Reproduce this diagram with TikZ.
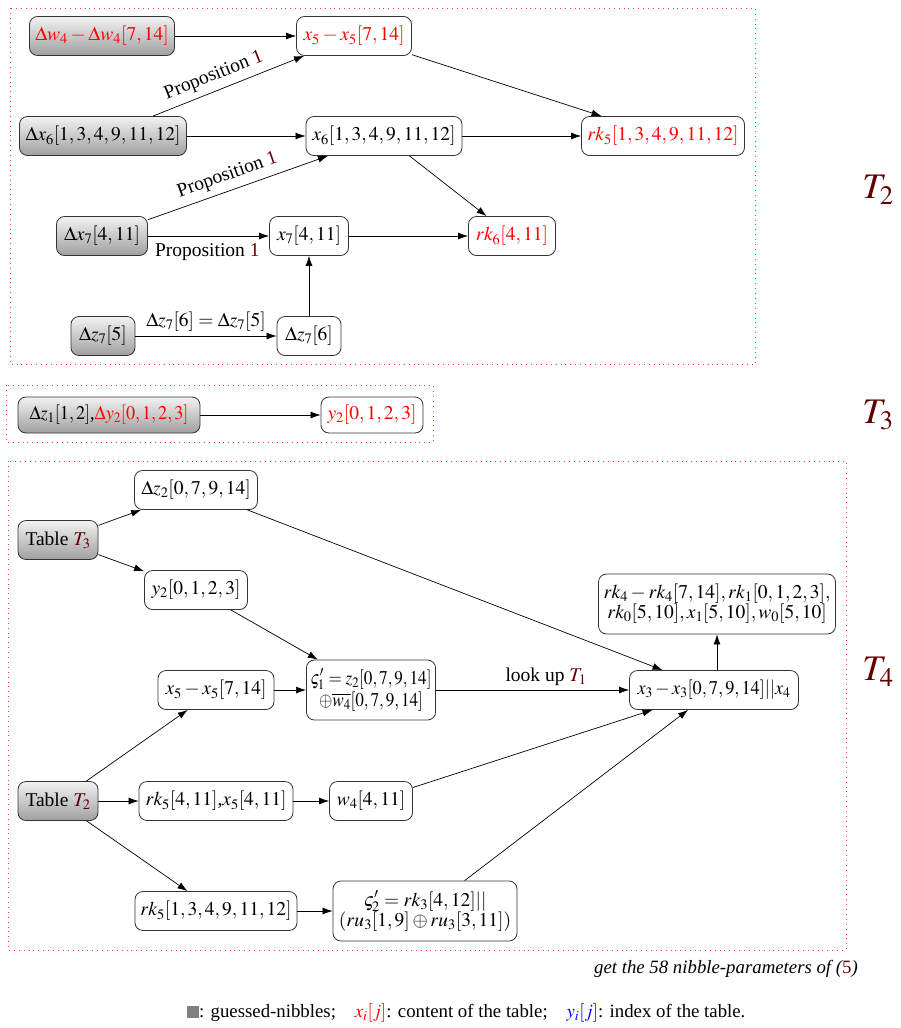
\documentclass[tikz,border=0pt]{standalone}
\usepackage{mathptmx}
\usepackage[no-math]{fontspec}
\setmainfont{Liberation Serif}
\usepackage{graphicx}
\usetikzlibrary{arrows.meta}
\definecolor{dred}{RGB}{96,0,0}
\definecolor{lred}{RGB}{255,0,0}
\tikzset{
  every node/.style={font=\fontsize{19.5}{22}\selectfont},
  wbox/.style={draw=black!80, rounded corners=8pt, fill=white, minimum height=39pt, inner xsep=4pt, inner ysep=3pt, line width=0.8pt},
  gbox/.style={wbox, top color=gray!10, bottom color=gray!75},
  arr/.style={-{Latex[length=10pt,width=7pt]}, line width=0.7pt},
  region/.style={draw=lred!80, line width=0.9pt, dash pattern=on 0.9pt off 4pt},
  tlabel/.style={font=\fontsize{36}{40}\selectfont, text=dred},
  elabel/.style={inner sep=4pt},
  slabel/.style={inner sep=6pt}
}
\begin{document}
\begin{tikzpicture}[x=1pt,y=-1pt]
\useasboundingbox (0,0) rectangle (900,1028);
% regions
\draw[region] (10,8) rectangle (755,364);
\draw[region] (6,385) rectangle (433,442);
\draw[region] (8,461) rectangle (846,950);
\node[tlabel] (lT2) at (878,190) {$T_2$};
\node[tlabel] (lT3) at (878,415) {$T_3$};
\node[tlabel] (lT4) at (878,672) {$T_4$};
% ---- T2 ----
\node[gbox, minimum width=145pt, text=lred] (dw4) at (102,36) {$\Delta w_4-\Delta w_4[7,14]$};
\node[wbox, minimum width=115pt, text=lred] (x5) at (354,36) {$x_5-x_5[7,14]$};
\node[gbox, minimum width=167pt] (dx6) at (103,136) {$\Delta x_6[1,3,4,9,11,12]$};
\node[wbox, minimum width=156pt] (x6) at (384,136) {$x_6[1,3,4,9,11,12]$};
\node[wbox, minimum width=163pt, text=lred] (rk5) at (663,136) {$rk_5[1,3,4,9,11,12]$};
\node[gbox, minimum width=91pt] (dx7) at (102,236) {$\Delta x_7[4,11]$};
\node[wbox, minimum width=79pt] (x7) at (309,236) {$x_7[4,11]$};
\node[wbox, minimum width=87pt, text=lred] (rk6) at (512,236) {$rk_6[4,11]$};
\node[gbox, minimum width=64pt] (dz75) at (103,336) {$\Delta z_7[5]$};
\node[wbox, minimum width=64pt] (dz76) at (309,336) {$\Delta z_7[6]$};
\draw[arr] (dw4) -- (x5);
\draw[arr] (dx6) -- node[pos=0.44, sloped, above, slabel] {Proposition {\color{dred}1}} (x5);
\draw[arr] (dx6) -- (x6);
\draw[arr] (x5) -- (rk5);
\draw[arr] (x6) -- (rk5);
\draw[arr] (x6) -- (rk6);
\draw[arr] (dx7) -- node[pos=0.47, sloped, above, slabel] {Proposition {\color{dred}1}} (x6);
\draw[arr] (dx7) -- node[pos=0.49, below=3pt, elabel] {Proposition {\color{dred}1}} (x7);
\draw[arr] (x7) -- (rk6);
\draw[arr] (dz75) -- node[midway, above, elabel] {$\Delta z_7[6]=\Delta z_7[5]$} (dz76);
\draw[arr] (dz76) -- (x7);
% ---- T3 ----
\node[gbox, minimum width=182pt, minimum height=36pt] (dz1) at (109,415) {\scalebox{0.93}[1]{$\Delta z_1[1,2]$,{\color{lred}$\Delta y_2[0,1,2,3]$}}};
\node[wbox, minimum width=102pt, minimum height=36pt, text=lred] (y2a) at (372,415) {$y_2[0,1,2,3]$};
\draw[arr] (dz1) -- (y2a);
% ---- T4 ----
\node[gbox, minimum width=80pt] (tT3) at (58,540) {Table {\color{dred}$T_3$}};
\node[wbox, minimum width=123pt] (dz2) at (196,490) {$\Delta z_2[0,7,9,14]$};
\node[wbox, minimum width=103pt] (y2b) at (196,590) {$y_2[0,1,2,3]$};
\node[wbox, minimum width=116pt] (x5b) at (216,690) {$x_5-x_5[7,14]$};
\node[wbox, minimum width=123pt, minimum height=60pt, align=center, inner ysep=3pt] (s1) at (371,690) {\scalebox{0.88}[1]{$\varsigma'_1=z_2[0,7,9,14]$}\\\scalebox{0.88}[1]{$\oplus\overline{w_4}[0,7,9,14]$}};
\node[wbox, minimum width=169pt] (x3) at (714,690) {\scalebox{0.94}[1]{$x_3-x_3[0,7,9,14]||x_4$}};
\node[wbox, minimum width=237pt, minimum height=60pt, align=center, inner ysep=3pt] (rk4) at (717,604) {$rk_4-rk_4[7,14],rk_1[0,1,2,3],$\\[-2pt]$rk_0[5,10],x_1[5,10],w_0[5,10]$};
\node[gbox, minimum width=80pt] (tT2) at (58,801) {Table {\color{dred}$T_2$}};
\node[wbox, minimum width=154pt] (rk5b) at (216,801) {$rk_5[4,11]$,$x_5[4,11]$};
\node[wbox, minimum width=83pt] (w4) at (371,801) {$w_4[4,11]$};
\node[wbox, minimum width=162pt] (rk5c) at (216,911) {$rk_5[1,3,4,9,11,12]$};
\node[wbox, minimum width=184pt, minimum height=60pt, align=center, inner ysep=3pt] (s2) at (425,911) {$\varsigma'_2=rk_3[4,12]||$\\[-2pt]$(ru_3[1,9]\oplus ru_3[3,11])$};
\draw[arr] (tT3) -- (dz2);
\draw[arr] (tT3) -- (y2b);
\draw[arr] (dz2) -- (x3);
\draw[arr] (y2b) -- (s1);
\draw[arr] (x5b) -- (s1);
\draw[arr] (s1) -- node[pos=0.57, above, elabel] {look up {\color{dred}$T_1$}} (x3);
\draw[arr] (x3.north -| rk4) -- (rk4);
\draw[arr] (w4) -- (x3);
\draw[arr] (s2) -- (x3);
\draw[arr] (tT2) -- (x5b);
\draw[arr] (tT2) -- (rk5b);
\draw[arr] (tT2) -- (rk5c);
\draw[arr] (rk5b) -- (w4);
\draw[arr] (rk5c) -- (s2);
% captions
\node[anchor=east, inner sep=0pt, font=\fontsize{18.8}{22}\selectfont] (cap) at (858,969) {\itshape get the 58 nibble-parameters of ({\color{dred}\upshape 5})};
\node[anchor=west, inner sep=0pt, font=\fontsize{18.8}{22}\selectfont] (leg) at (187,1013) {{\color{gray}\rule{12pt}{12pt}}: guessed-nibbles;\quad{\color{lred}$x_i[j]$}: content of the table;\quad{\color{blue}$y_i[j]$}: index of the table.};
\end{tikzpicture}
\end{document}
